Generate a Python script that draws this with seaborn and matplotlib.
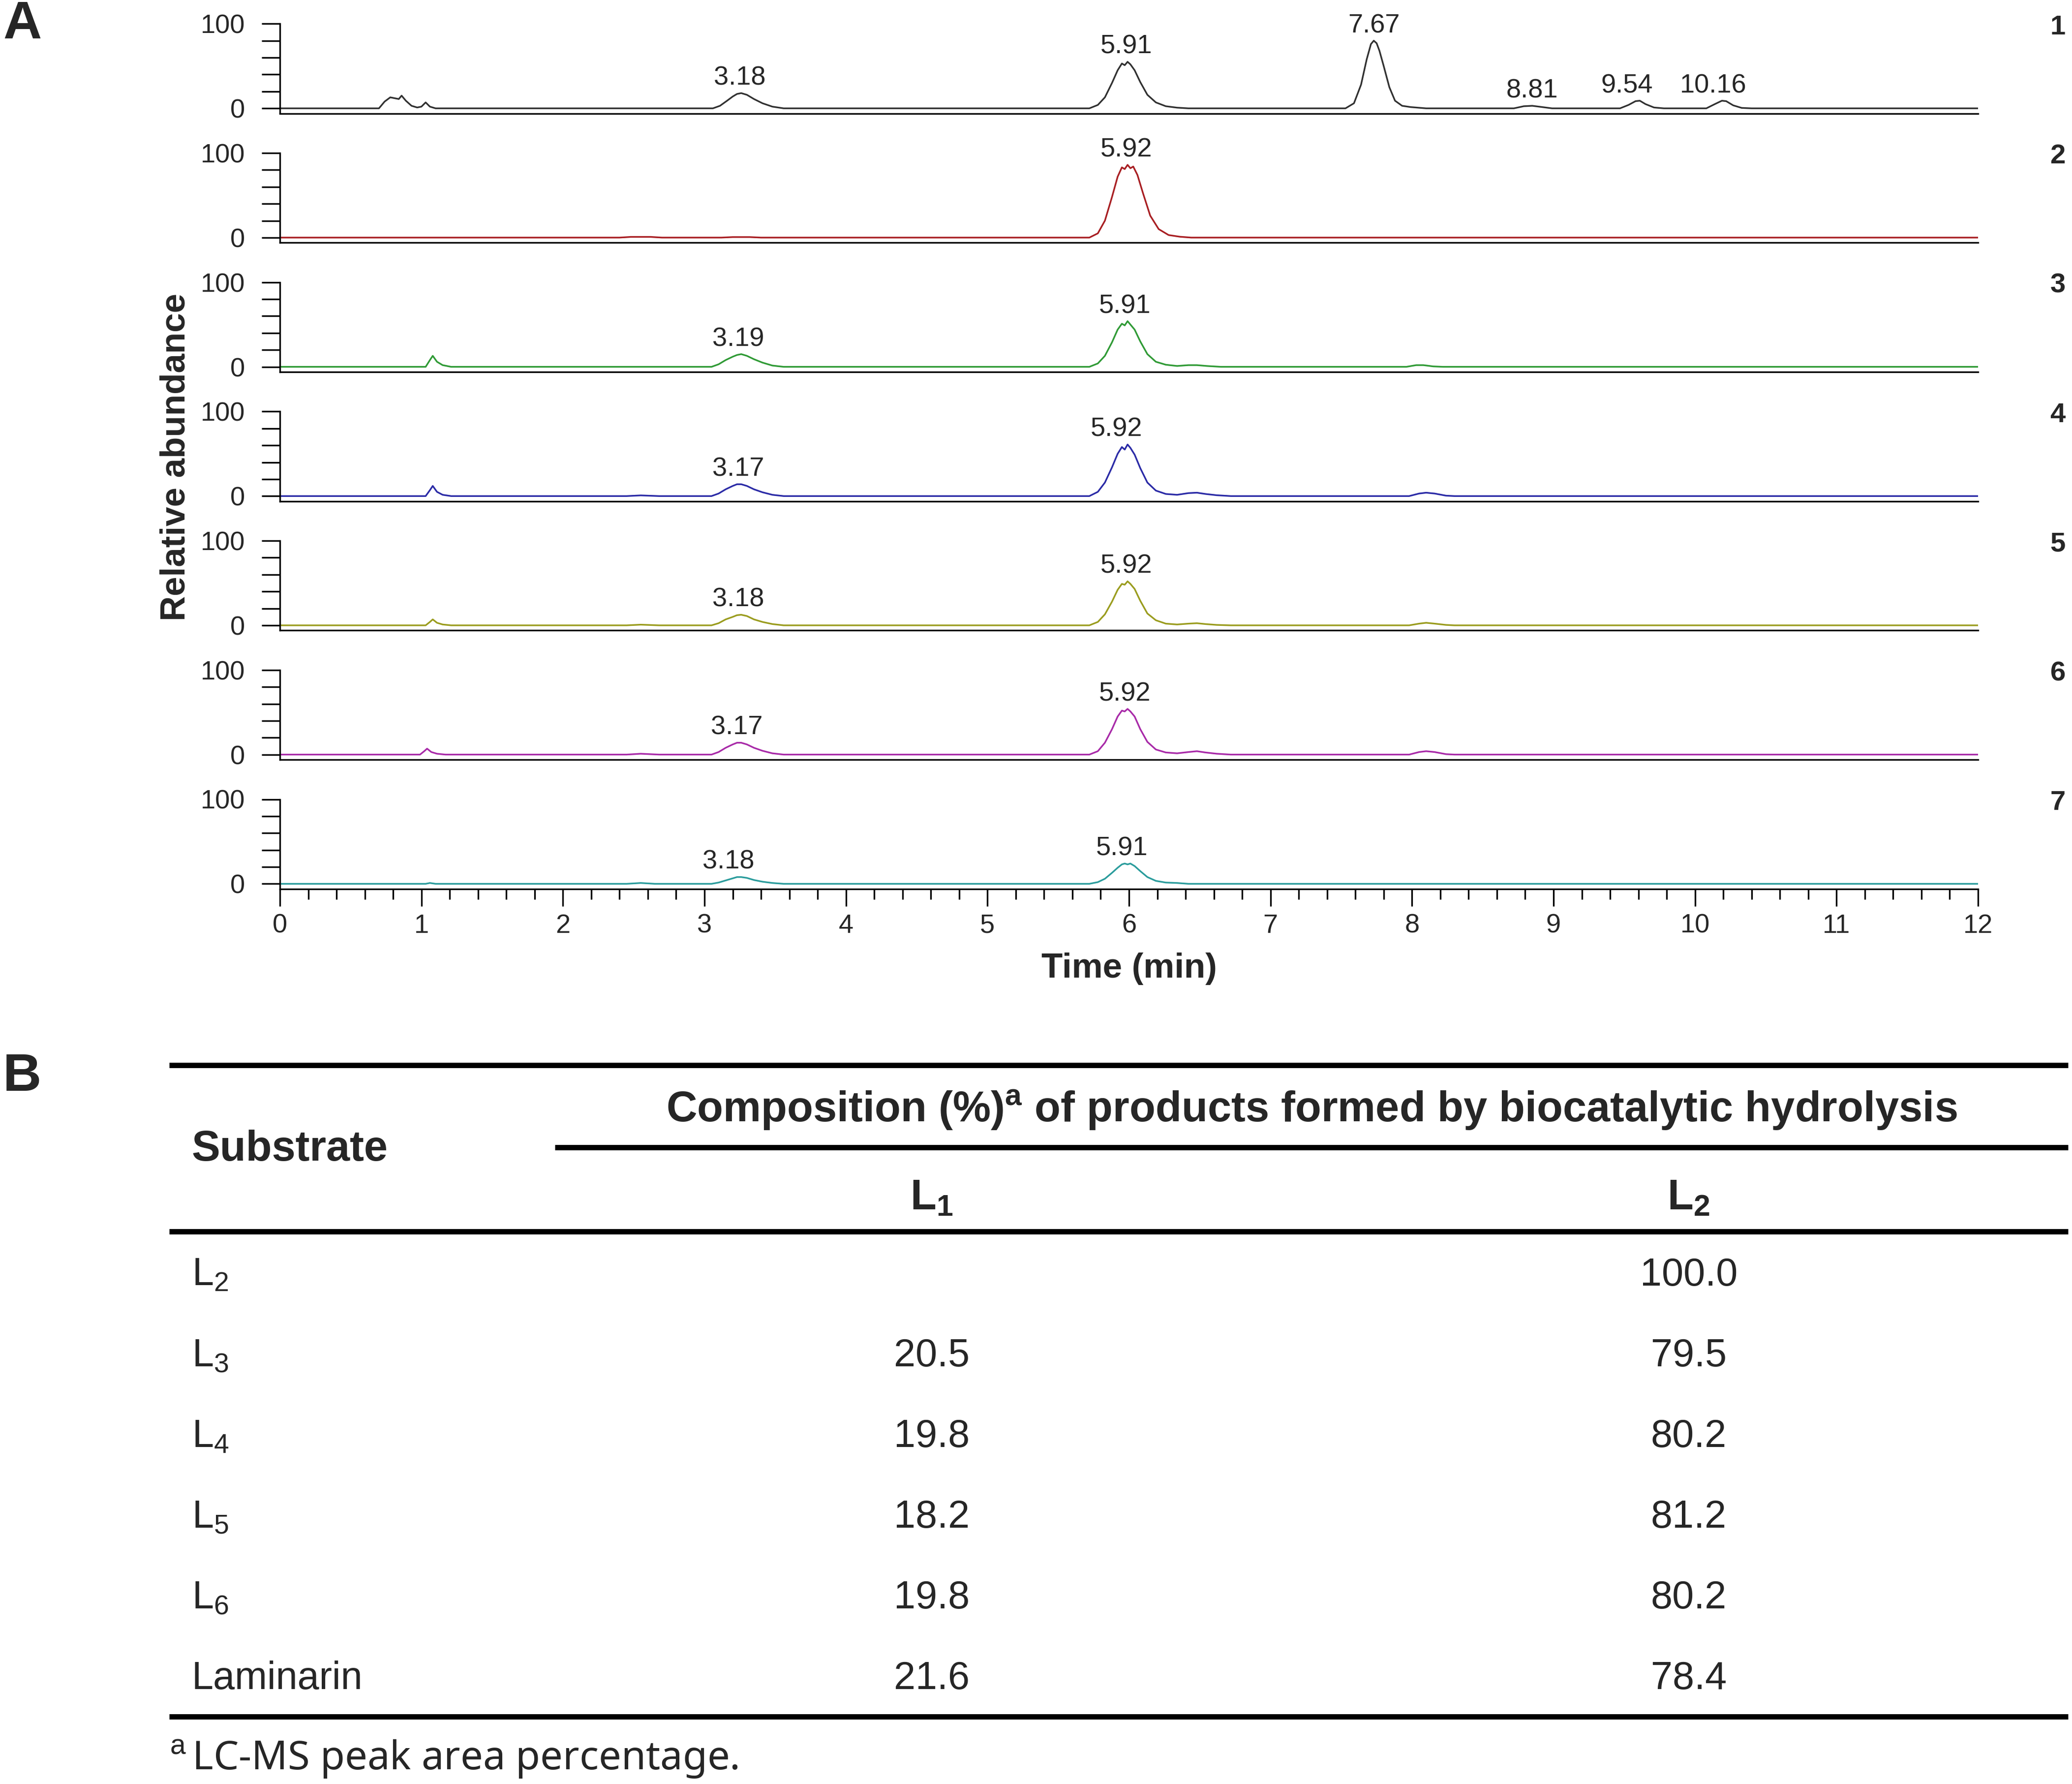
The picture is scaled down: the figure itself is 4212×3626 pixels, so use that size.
import numpy as np
import pandas as pd
import matplotlib
matplotlib.use("Agg")
import matplotlib.pyplot as plt
from matplotlib.ticker import MultipleLocator
import seaborn as sns

sns.set_theme(style="ticks")
plt.rcParams['font.family'] = ['Liberation Sans', 'DejaVu Sans']
plt.rcParams['mathtext.fontset'] = 'custom'
plt.rcParams['mathtext.rm'] = 'Liberation Sans'
plt.rcParams['mathtext.it'] = 'Liberation Sans:italic'
plt.rcParams['mathtext.bf'] = 'Liberation Sans:bold'

# ---- chromatogram traces (time in min, relative abundance in %) ----
time_1 = [0.00, 0.70, 0.74, 0.78, 0.81, 0.84, 0.86, 0.89, 0.93, 0.97, 1.00, 1.03, 1.06, 1.10,
          3.06, 3.11, 3.16, 3.20, 3.23, 3.26, 3.30, 3.35, 3.41, 3.48, 3.56,
          5.72, 5.78, 5.83, 5.88, 5.92, 5.95, 5.97, 5.99, 6.01, 6.04, 6.08, 6.13, 6.19, 6.26, 6.34, 6.42,
          7.53, 7.59, 7.64, 7.68, 7.71, 7.73, 7.75, 7.77, 7.80, 7.84, 7.88, 7.93, 7.99, 8.10,
          8.72, 8.79, 8.85, 8.92, 8.99,
          9.47, 9.53, 9.58, 9.61, 9.65, 9.71, 9.78,
          10.08, 10.14, 10.19, 10.22, 10.27, 10.33, 10.40, 12.00]
abund_1 = [0, 0, 8, 13, 12, 11, 15, 9, 3, 1, 2, 7, 2, 0,
           0, 3, 9, 14, 17, 18, 16, 11, 6, 2, 0,
           0, 4, 13, 30, 45, 53, 51, 55, 52, 45, 31, 16, 7, 2.5, 0.8, 0,
           0, 6, 28, 58, 76, 80, 77, 68, 50, 25, 9, 3, 1.5, 0,
           0, 2.5, 3, 1.5, 0,
           0, 4, 8.5, 9, 5, 1, 0,
           0, 5, 9, 8.5, 3.5, 0.5, 0, 0]

time_2 = [0.00, 2.40, 2.48, 2.62, 2.70, 3.12, 3.20, 3.32, 3.40,
          5.72, 5.78, 5.83, 5.88, 5.92, 5.95, 5.97, 5.99, 6.01, 6.03, 6.06, 6.10, 6.15, 6.21, 6.28, 6.36, 6.44, 12.00]
abund_2 = [0, 0, 0.8, 0.8, 0, 0, 0.6, 0.6, 0,
           0, 5, 20, 48, 72, 83, 81, 86, 82, 84, 74, 52, 26, 10, 3, 1, 0, 0]

time_3 = [0.00, 1.03, 1.06, 1.08, 1.11, 1.15, 1.21,
          3.05, 3.10, 3.15, 3.20, 3.23, 3.26, 3.30, 3.35, 3.41, 3.48, 3.56,
          5.72, 5.78, 5.83, 5.88, 5.92, 5.95, 5.97, 5.99, 6.01, 6.04, 6.08, 6.13, 6.19, 6.26, 6.34, 6.42, 6.48, 6.55, 6.65,
          7.96, 8.03, 8.08, 8.15, 8.22, 12.00]
abund_3 = [0, 0, 8, 13, 6, 2, 0,
           0, 3, 8, 12, 14, 15, 13, 9, 5, 1.5, 0,
           0, 4, 13, 29, 44, 51, 49, 54, 50, 44, 30, 15, 6, 2.5, 1, 2, 2, 1, 0,
           0, 2, 2, 0.5, 0, 0]

time_4 = [0.00, 1.03, 1.06, 1.08, 1.11, 1.15, 1.21,
          2.45, 2.55, 2.68,
          3.05, 3.10, 3.15, 3.20, 3.23, 3.26, 3.30, 3.35, 3.41, 3.48, 3.56,
          5.72, 5.78, 5.83, 5.88, 5.92, 5.95, 5.97, 5.99, 6.01, 6.04, 6.08, 6.13, 6.19, 6.26, 6.34, 6.42, 6.48, 6.54, 6.62, 6.72,
          7.98, 8.05, 8.10, 8.16, 8.24, 8.30, 12.00]
abund_4 = [0, 0, 7, 12, 5, 1.5, 0,
           0, 0.8, 0,
           0, 3, 8, 12, 14, 14, 12, 8, 4.5, 1.5, 0,
           0, 5, 16, 34, 50, 58, 55, 61, 57, 49, 33, 16, 6.5, 2.5, 1.5, 3.5, 4, 2.5, 1, 0,
           0, 3, 4, 3, 0.5, 0, 0]

time_5 = [0.00, 1.03, 1.06, 1.08, 1.11, 1.15, 1.21,
          2.45, 2.55, 2.68,
          3.05, 3.10, 3.15, 3.20, 3.23, 3.26, 3.30, 3.35, 3.41, 3.48, 3.56,
          5.72, 5.78, 5.83, 5.88, 5.92, 5.95, 5.97, 5.99, 6.01, 6.04, 6.08, 6.13, 6.19, 6.26, 6.34, 6.42, 6.48, 6.54, 6.62, 6.72,
          7.98, 8.05, 8.10, 8.16, 8.24, 8.30, 12.00]
abund_5 = [0, 0, 4, 7, 3, 1, 0,
           0, 0.8, 0,
           0, 2.5, 7, 10, 12, 12.5, 11, 7, 4, 1.5, 0,
           0, 4, 13, 28, 42, 49, 48, 52, 49, 43, 29, 14, 6, 2, 1, 2, 2.5, 1.5, 0.5, 0,
           0, 2, 3, 2, 0.5, 0, 0]

time_6 = [0.00, 0.99, 1.02, 1.04, 1.07, 1.11, 1.17,
          2.45, 2.55, 2.68,
          3.05, 3.10, 3.15, 3.20, 3.23, 3.26, 3.30, 3.35, 3.41, 3.48, 3.56,
          5.72, 5.78, 5.83, 5.88, 5.92, 5.95, 5.97, 5.99, 6.01, 6.04, 6.08, 6.13, 6.19, 6.26, 6.34, 6.42, 6.48, 6.54, 6.62, 6.72,
          7.98, 8.05, 8.10, 8.16, 8.24, 8.30, 12.00]
abund_6 = [0, 0, 4, 7, 3, 1, 0,
           0, 1, 0,
           0, 3, 8, 12, 14, 14, 12, 8, 4.5, 1.5, 0,
           0, 4, 14, 30, 45, 52, 51, 54, 51, 45, 30, 15, 6, 2.5, 1.5, 3, 4, 2.5, 1, 0,
           0, 3, 4, 3, 0.5, 0, 0]

time_7 = [0.00, 1.03, 1.06, 1.10, 2.45, 2.55, 2.65,
          3.05, 3.10, 3.15, 3.20, 3.23, 3.26, 3.30, 3.35, 3.41, 3.48, 3.56,
          5.72, 5.78, 5.83, 5.88, 5.92, 5.95, 5.97, 5.99, 6.01, 6.04, 6.08, 6.13, 6.19, 6.26, 6.34, 6.42, 12.00]
abund_7 = [0, 0, 1, 0, 0, 1, 0,
           0, 1.5, 4, 6.5, 8, 8, 7, 4.5, 2.5, 1, 0,
           0, 2, 6, 13, 19, 23, 24, 23, 24, 21, 15, 8, 3.5, 1.5, 1, 0, 0]

# peak labels (retention time text, where it sits on the time axis)
labels_1 = ['3.18', '5.91', '7.67', '8.81', '9.54', '10.16']
label_t_1 = [3.25, 5.98, 7.73, 8.85, 9.52, 10.13]
labels_2 = ['5.92']
label_t_2 = [5.98]
labels_3 = ['3.19', '5.91']
label_t_3 = [3.24, 5.97]
labels_4 = ['3.17', '5.92']
label_t_4 = [3.24, 5.91]
labels_5 = ['3.18', '5.92']
label_t_5 = [3.24, 5.98]
labels_6 = ['3.17', '5.92']
label_t_6 = [3.23, 5.97]
labels_7 = ['3.18', '5.91']
label_t_7 = [3.17, 5.95]

trace_colors = ['#303030', '#a81e22', '#2f9a35', '#2a2aa6', '#9a9c1e', '#a82aa8', '#2a9c9c']

# ---- table (panel B) ----
substrates = ['L$_2$', 'L$_3$', 'L$_4$', 'L$_5$', 'L$_6$', 'Laminarin']
comp_L1 = [None, 20.5, 19.8, 18.2, 19.8, 21.6]
comp_L2 = [100.0, 79.5, 80.2, 81.2, 80.2, 78.4]
product_cols = [r'$\mathbf{L_1}$', r'$\mathbf{L_2}$']

times = [time_1, time_2, time_3, time_4, time_5, time_6, time_7]
abunds = [abund_1, abund_2, abund_3, abund_4, abund_5, abund_6, abund_7]
labels = [labels_1, labels_2, labels_3, labels_4, labels_5, labels_6, labels_7]
label_ts = [label_t_1, label_t_2, label_t_3, label_t_4, label_t_5, label_t_6, label_t_7]

W, H = 4212, 3626
fig = plt.figure(figsize=(W / 300, H / 300), dpi=300)


def fx(px):
    return px / W


def fy(px):
    return 1 - px / H


# table layer in pixel coordinates
ax_tab = fig.add_axes([0, 0, 1, 1])
ax_tab.set_xlim(0, W)
ax_tab.set_ylim(H, 0)
ax_tab.axis('off')

ax_left, ax_right = 569, 4021
ax_h = 182.2
axes = []
for i in range(7):
    top = 48.3 + 262.7 * i
    ax = fig.add_axes([fx(ax_left), fy(top + ax_h), fx(ax_right - ax_left), ax_h / H])
    df = pd.DataFrame({'Time': times[i], 'Abundance': abunds[i]})
    sns.lineplot(data=df, x='Time', y='Abundance', ax=ax, color=trace_colors[i],
                 linewidth=0.8, estimator=None)
    ax.set_xlim(0, 12)
    ax.set_ylim(-6, 100)
    ax.set_facecolor('none')
    for s in ['top', 'right']:
        ax.spines[s].set_visible(False)
    for s in ['left', 'bottom']:
        ax.spines[s].set_linewidth(0.8)
        ax.spines[s].set_color('black')
    ax.set_yticks([0, 20, 40, 60, 80, 100])
    ax.set_yticklabels(['0', '', '', '', '', '100'])
    ax.tick_params(axis='y', direction='out', length=9, width=0.8, pad=8,
                   labelsize=13, color='black')
    ax.set_ylabel('')
    ax.set_xlabel('')

    tt = np.array(times[i])
    aa = np.array(abunds[i])
    for txt, t in zip(labels[i], label_ts[i]):
        h = aa[(tt > t - 0.12) & (tt < t + 0.12)].max()
        ax.annotate(txt, xy=(t, h), xytext=(0, 4), textcoords='offset points',
                    ha='center', va='baseline', fontsize=13, annotation_clip=False)

    ax.text(1.047, 0.96, str(i + 1), transform=ax.transAxes, ha='center', va='center',
            fontsize=13.5, fontweight='bold')
    axes.append(ax)

for ax in axes[:-1]:
    ax.tick_params(axis='x', bottom=False, labelbottom=False)

axb = axes[-1]
axb.xaxis.set_major_locator(MultipleLocator(1))
axb.xaxis.set_minor_locator(MultipleLocator(0.2))
axb.tick_params(axis='x', which='major', direction='out', length=8.5, width=0.8,
                pad=3.5, labelsize=13, color='black')
axb.tick_params(axis='x', which='minor', direction='out', length=5, width=0.8, color='black')
axb.set_xlabel('Time (min)', fontsize=17, fontweight='bold', labelpad=7)

fig.text(fx(357), fy(929), 'Relative abundance', rotation=90, ha='center', va='center',
         fontsize=17, fontweight='bold')
fig.text(fx(45), fy(50), 'A', ha='center', va='center', fontsize=26, fontweight='bold')
fig.text(fx(45), fy(2189), 'B', ha='center', va='center', fontsize=26, fontweight='bold')

# ---- panel B table ----
tab_l, tab_r = 344, 4204
rule_w = 2.6
ax_tab.hlines([2165, 2503, 3489], tab_l, tab_r, color='black', linewidth=rule_w)
ax_tab.hlines(2332, 1128, tab_r, color='black', linewidth=rule_w)

ax_tab.text(2666, 2256, r'Composition (%)$^{\mathbf{a}}$ of products formed by biocatalytic hydrolysis',
            ha='center', va='center', fontsize=20.8, fontweight='bold')
ax_tab.text(390, 2336, 'Substrate', ha='left', va='center', fontsize=20.8, fontweight='bold')
col_x = [1894, 3433]
for cx, name in zip(col_x, product_cols):
    ax_tab.text(cx, 2436, name, ha='center', va='center', fontsize=20.8)

row_y0, row_step = 2592, 164
for r, (sub, v1, v2) in enumerate(zip(substrates, comp_L1, comp_L2)):
    y = row_y0 + r * row_step
    ax_tab.text(390, y, sub, ha='left', va='center', fontsize=19)
    if v1 is not None:
        ax_tab.text(col_x[0], y, f'{v1:.1f}', ha='center', va='center', fontsize=19)
    ax_tab.text(col_x[1], y, f'{v2:.1f}', ha='center', va='center', fontsize=19)

ax_tab.text(345, 3575, r'$^{\mathrm{a}}\,$LC-MS peak area percentage.', ha='left', va='center',
            fontsize=19.5, family=['Noto Sans', 'DejaVu Sans'])

fig.savefig('out.png', dpi=300, facecolor='white')
